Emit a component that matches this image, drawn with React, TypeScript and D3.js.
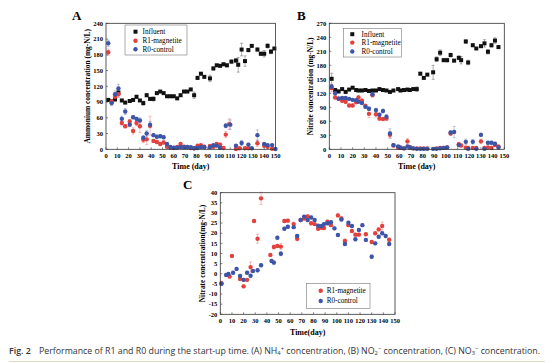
import * as d3 from "d3";

type Pt = [number, number, number]; // day, value, error

const DAY_TICKS = [0, 10, 20, 30, 40, 50, 60, 70, 80, 90, 100, 110, 120, 130, 140, 150];
const A_TICKS = [0, 30, 60, 90, 120, 150, 180, 210, 240];
const B_TICKS = [0, 30, 60, 90, 120, 150, 180, 210, 240, 270];
const C_TICKS = [-20, -15, -10, -5, 0, 5, 10, 15, 20, 25, 30, 35, 40];

const A_INFLUENT: Pt[] = [
  [2, 94, 3], [5, 91, 3], [8, 95, 3], [11, 108, 4], [14, 93, 2], [17, 89, 2], [21, 92, 2], [24, 94, 2],
  [27, 100, 3], [30, 93, 2], [33, 88, 4], [36, 103, 3], [39, 96, 3], [42, 96, 4], [45, 107, 2], [48, 110, 2],
  [51, 107, 2], [54, 101, 2], [57, 101, 2], [60, 101, 2], [63, 97, 2], [66, 103, 2], [69, 110, 2], [72, 110, 2],
  [75, 114, 2], [78, 103, 6], [81, 136, 3], [84, 144, 2], [87, 138, 2], [92, 135, 6], [95, 154, 3], [98, 160, 2],
  [101, 159, 2], [104, 162, 2], [107, 160, 3], [111, 167, 3], [115, 169, 4], [117, 161, 14], [120, 190, 12],
  [123, 168, 10], [126, 189, 3], [129, 197, 2], [134, 190, 3], [137, 182, 3], [140, 182, 6], [143, 197, 4],
  [146, 186, 4], [149, 192, 2],
];
const A_R1: Pt[] = [
  [2, 185, 6], [5, 91, 4], [8, 100, 5], [11, 105, 6], [14, 50, 4], [17, 44, 3], [21, 53, 4], [24, 35, 6],
  [27, 50, 5], [30, 44, 12], [33, 18, 5], [36, 19, 10], [39, 45, 18], [42, 16, 3], [45, 14, 3], [48, 10, 3],
  [51, 13, 3], [54, 5, 2], [57, 3, 1], [60, 2.5, 1], [63, 4.4, 1], [66, 10, 2], [69, 5, 1], [72, 4, 1],
  [75, 2.5, 1], [78, 2, 1], [81, 7, 2], [84, 7.6, 2], [87, 5, 2], [92, 6.3, 2], [95, 5, 2], [98, 10, 3],
  [101, 9, 3], [104, 2.5, 1], [106, 28, 6], [109, 48, 10], [115, 0.5, 1], [118, 2, 1], [123, 2, 1], [126, 2, 1],
  [134, 11.4, 6], [140, 7, 3], [143, 5, 2], [147, 1, 1],
];
const A_R0: Pt[] = [
  [2, 202, 6], [5, 88, 5], [8, 105, 6], [11, 116, 8], [14, 58, 5], [17, 72, 6], [21, 47, 4], [24, 61, 3],
  [27, 58, 3], [30, 55, 5], [33, 22, 4], [36, 30, 6], [39, 47, 6], [42, 27, 3], [45, 24, 3], [48, 25, 3],
  [51, 23, 3], [54, 10, 2], [57, 4.4, 1], [60, 3, 1], [63, 3, 1], [66, 4.4, 1], [69, 4, 1], [72, 4.4, 1],
  [75, 4, 1], [78, 2, 1], [81, 2.5, 1], [84, 4.4, 1], [87, 4, 1], [92, 4, 1], [95, 7.6, 2], [98, 7, 2],
  [101, 3, 1], [106, 45, 4], [110, 47, 9], [115, 7, 2], [120, 12, 5], [126, 9, 3], [129, 2, 1], [134, 27, 10],
  [140, 10, 2], [143, 8, 2], [147, 8, 2], [150, 0.5, 1],
];

const B_INFLUENT: Pt[] = [
  [2, 151, 12], [5, 127, 3], [8, 124, 3], [11, 129, 3], [14, 123, 3], [17, 128, 2], [20, 132, 2], [23, 127, 2],
  [25, 126, 2], [28, 126, 2], [31, 127, 2], [34, 125, 2], [37, 126, 2], [40, 126, 2], [43, 129, 2], [46, 127, 2],
  [49, 126, 2], [52, 123, 2], [55, 126, 2], [59, 129, 2], [61, 126, 2], [64, 127, 2], [67, 128, 2], [69, 127, 2],
  [72, 129, 3], [75, 129, 5], [78, 162, 3], [81, 153, 2], [84, 160, 2], [89, 165, 15], [92, 193, 5], [95, 207, 6],
  [98, 191, 3], [101, 191, 4], [104, 202, 4], [107, 190, 2], [111, 196, 4], [113, 191, 8], [117, 231, 4],
  [119, 186, 5], [123, 223, 3], [126, 216, 2], [130, 221, 3], [133, 227, 8], [136, 209, 5], [139, 223, 4],
  [142, 233, 6], [145, 219, 2],
];
const B_R1: Pt[] = [
  [2, 131, 8], [5, 111, 3], [8, 108, 3], [11, 104, 3], [14, 102, 4], [17, 94, 3], [20, 94, 3], [23, 101, 3],
  [25, 111, 4], [28, 104, 4], [31, 93, 4], [34, 76, 8], [37, 116, 4], [40, 75, 6], [43, 66, 4], [46, 65, 3],
  [49, 66, 4], [52, 31, 7], [55, 8, 3], [59, 3.6, 1], [61, 3, 1], [64, 2, 1], [67, 17, 6], [69, 5, 2],
  [72, 2, 1], [75, 2, 1], [78, 2, 1], [81, 2, 1], [84, 2, 1], [92, 2, 1], [95, 3, 1], [98, 3, 1], [101, 4, 1],
  [104, 34, 4], [111, 11, 4], [113, 8, 3], [117, 3.6, 2], [119, 3, 2], [123, 3, 2], [126, 3, 2], [130, 17, 5],
  [133, 3, 2], [136, 4, 2], [139, 3, 2], [142, 9, 3], [145, 6, 2],
];
const B_R0: Pt[] = [
  [2, 134, 5], [5, 120, 4], [8, 109, 2], [11, 110, 2], [14, 110, 2], [17, 108, 2], [20, 106, 2], [23, 105, 2],
  [25, 102, 2], [28, 99, 3], [31, 91, 3], [34, 87, 4], [37, 118, 5], [40, 84, 4], [43, 74, 3], [46, 82, 4],
  [49, 70, 4], [52, 34, 10], [55, 9, 2], [59, 6, 2], [61, 4, 1], [64, 2, 1], [67, 6, 2], [69, 4, 1],
  [72, 2, 1], [75, 1, 1], [78, 1, 1], [81, 1, 1], [84, 1, 1], [89, 1, 1], [92, 1, 1], [95, 2, 1], [98, 3, 1],
  [101, 4, 1], [104, 36, 4], [107, 37, 12], [111, 9, 3], [117, 16, 6], [119, 1, 1], [123, 16, 5], [126, 1, 1],
  [130, 31, 4], [133, 1, 1], [136, 14, 3], [139, 14, 3], [142, 12, 3], [145, 4, 2],
];

const C_R1: Pt[] = [
  [1, -4.7, 1], [8, -1.3, 1], [10, 8.8, 0.7], [17, -2.6, 0.7], [20, -6.2, 0.7], [23, -3, 0.7], [26, 3.3, 2.5],
  [29, 26, 0.7], [32, 17.3, 2.2], [35, 37.2, 3], [43, 9.3, 0.7], [46, 13.2, 1], [49, 13.7, 0.7], [52, 13.4, 1.5],
  [55, 26, 0.7], [58, 26.2, 0.7], [63, 24.5, 1], [66, 17.3, 1], [69, 26.5, 0.7], [72, 27.3, 0.7], [75, 28.3, 0.7],
  [78, 24.9, 0.7], [81, 24.5, 0.7], [84, 22.2, 0.7], [87, 22.7, 0.7], [89, 22.6, 0.7], [92, 25.7, 0.7],
  [95, 24, 0.7], [101, 28.8, 0.7], [104, 27.3, 1], [107, 16.2, 1], [110, 24, 0.7], [113, 21.1, 0.7],
  [116, 19.3, 0.7], [119, 19.3, 0.7], [125, 19.5, 0.7], [130, 15.7, 0.7], [133, 20, 0.7], [136, 21.9, 0.7],
  [139, 23.6, 2], [145, 16.8, 0.7],
];
const C_R0: Pt[] = [
  [1, -4.9, 0.7], [5, -0.6, 0.7], [7, -0.1, 0.7], [11, 0.5, 0.7], [14, 2.4, 0.7], [17, -1.1, 0.7], [20, -3, 0.7],
  [23, 0.5, 0.7], [26, -1, 0.7], [28, 1.4, 0.7], [32, 1.7, 0.7], [35, 4.2, 0.7], [44, 6.3, 0.7], [46, 5.5, 1],
  [49, 17.8, 0.7], [52, 9.9, 1], [55, 22.2, 0.7], [58, 23.2, 0.7], [63, 23, 0.7], [66, 18.6, 0.7], [69, 26.5, 0.7],
  [72, 28.2, 0.7], [75, 26.5, 0.7], [78, 27.8, 0.7], [81, 26.5, 0.7], [84, 23.7, 0.7], [87, 23.6, 0.7],
  [89, 24.5, 0.7], [92, 24.9, 0.7], [95, 25.4, 0.7], [98, 22.4, 0.7], [101, 19.1, 0.7], [104, 26.8, 0.7],
  [107, 14.7, 0.7], [110, 25.2, 0.7], [113, 23.6, 0.7], [116, 17, 0.7], [119, 21.6, 0.7], [122, 24, 0.7],
  [125, 16.7, 0.7], [130, 8.4, 0.7], [133, 15, 0.7], [136, 18.3, 0.7], [139, 20, 0.7], [142, 18.6, 0.7],
  [145, 14.7, 0.7],
];

const RED = "#e2413d";
const BLUE = "#3d55a8";
const BLACK = "#111";
const SERIF = "'Liberation Serif', 'Times New Roman', serif";
const SANS = "'Open Sans', 'Liberation Sans', sans-serif";

type Series = { name: string; data: Pt[]; color: string; shape: "square" | "circle" };

type PanelProps = {
  left: number; right: number; top: number; bottom: number;
  yDomain: [number, number]; yTicks: number[];
  series: Series[];
  letter: string; letterX: number; letterY: number;
  yLabel: string; yLabelX: number;
  xLabel: string; xLabelY: number;
  legend: { x: number; y: number; w: number; h: number; rowY: number[]; markX: number; textX: number };
};

function Marker({ x, y, s }: { x: number; y: number; s: Series }) {
  if (s.shape === "square") return <rect x={x - 2} y={y - 2} width={4} height={4} fill={s.color} />;
  return <circle cx={x} cy={y} r={2.2} fill={s.color} />;
}

function Panel(p: PanelProps) {
  const x = d3.scaleLinear().domain([0, 150]).range([p.left, p.right]);
  const y = d3.scaleLinear().domain(p.yDomain).range([p.bottom, p.top]);
  const cy = (p.top + p.bottom) / 2;
  return (
    <g>
      <text x={p.letterX} y={p.letterY} fontFamily={SERIF} fontWeight={700} fontSize={13}>{p.letter}</text>
      {/* error bars then markers */}
      {p.series.map((s) => (
        <g key={s.name + "e"} stroke={s.color} strokeOpacity={0.55} strokeWidth={0.6}>
          {s.data.map(([d, v, e], i) => (
            <g key={i}>
              <line x1={x(d)} x2={x(d)} y1={y(v - e)} y2={y(v + e)} />
              <line x1={x(d) - 1.5} x2={x(d) + 1.5} y1={y(v + e)} y2={y(v + e)} />
              <line x1={x(d) - 1.5} x2={x(d) + 1.5} y1={y(v - e)} y2={y(v - e)} />
            </g>
          ))}
        </g>
      ))}
      {p.series.map((s) => (
        <g key={s.name}>
          {s.data.map(([d, v], i) => <Marker key={i} x={x(d)} y={y(v)} s={s} />)}
        </g>
      ))}
      <rect x={p.left} y={p.top} width={p.right - p.left} height={p.bottom - p.top} fill="none" stroke="#333" strokeWidth={0.8} />
      {DAY_TICKS.map((t) => (
        <g key={t}>
          <line x1={x(t)} x2={x(t)} y1={p.bottom} y2={p.bottom - 2} stroke="#333" strokeWidth={0.6} />
          <text x={x(t)} y={p.bottom + 9} textAnchor="middle" fontFamily={SERIF} fontWeight={700} fontSize={6.5}>{t}</text>
        </g>
      ))}
      {p.yTicks.map((t) => (
        <g key={t}>
          <line x1={p.left} x2={p.left + 2} y1={y(t)} y2={y(t)} stroke="#333" strokeWidth={0.6} />
          <text x={p.left - 3} y={y(t) + 2.2} textAnchor="end" fontFamily={SERIF} fontWeight={700} fontSize={6.5}>{t}</text>
        </g>
      ))}
      <text transform={`translate(${p.yLabelX},${cy}) rotate(-90)`} textAnchor="middle" fontFamily={SERIF} fontWeight={700} fontSize={7.4}>{p.yLabel}</text>
      <text x={(p.left + p.right) / 2} y={p.xLabelY} textAnchor="middle" fontFamily={SERIF} fontWeight={700} fontSize={8}>{p.xLabel}</text>
      <rect x={p.legend.x} y={p.legend.y} width={p.legend.w} height={p.legend.h} fill="#fff" stroke="#777" strokeWidth={0.6} />
      {p.series.map((s, i) => (
        <g key={s.name + "l"}>
          <Marker x={p.legend.markX} y={p.legend.rowY[i]} s={s} />
          <text x={p.legend.textX} y={p.legend.rowY[i] + 2.4} fontFamily={SERIF} fontSize={7.2}>{s.name}</text>
        </g>
      ))}
    </g>
  );
}

export default function App() {
  return (
    <svg width={554} height={363} style={{ position: "absolute", left: 0, top: 0, background: "#fff" }}>
      <Panel
        left={106} right={275.5} top={23.3} bottom={149.3}
        yDomain={[0, 240]} yTicks={A_TICKS}
        series={[
          { name: "Influent", data: A_INFLUENT, color: BLACK, shape: "square" },
          { name: "R1-magnetite", data: A_R1, color: RED, shape: "circle" },
          { name: "R0-control", data: A_R0, color: BLUE, shape: "circle" },
        ]}
        letter="A" letterX={72} letterY={20}
        yLabel="Ammonium concentration (mg-N/L)" yLabelX={90}
        xLabel="Time (day)" xLabelY={169}
        legend={{ x: 125, y: 25, w: 62, h: 30, rowY: [31.7, 40.7, 49.3], markX: 135.5, textX: 142.5 }}
      />
      <Panel
        left={329.3} right={504.3} top={23.3} bottom={149.3}
        yDomain={[0, 270]} yTicks={B_TICKS}
        series={[
          { name: "Influent", data: B_INFLUENT, color: BLACK, shape: "square" },
          { name: "R1-magnetite", data: B_R1, color: RED, shape: "circle" },
          { name: "R0-control", data: B_R0, color: BLUE, shape: "circle" },
        ]}
        letter="B" letterX={297} letterY={20}
        yLabel="Nitrite concentration (mg-N/L)" yLabelX={313}
        xLabel="Time (day)" xLabelY={169}
        legend={{ x: 343.5, y: 28.5, w: 58, h: 28.5, rowY: [34.2, 42.6, 51.5], markX: 352.3, textX: 361.5 }}
      />
      <Panel
        left={220.3} right={395} top={192.7} bottom={314.3}
        yDomain={[-20, 40]} yTicks={C_TICKS}
        series={[
          { name: "R1-magnetite", data: C_R1, color: RED, shape: "circle" },
          { name: "R0-control", data: C_R0, color: BLUE, shape: "circle" },
        ]}
        letter="C" letterX={183} letterY={189}
        yLabel="Nitrate concentration(mg-N/L)" yLabelX={205}
        xLabel="Time(day)" xLabelY={335}
        legend={{ x: 306.5, y: 283.3, w: 63.5, h: 25, rowY: [290.7, 301], markX: 320.7, textX: 326.7 }}
      />
      <text x={9} y={353.5} fontFamily={SANS} fontSize={8.8} fill="#333">
        <tspan fontWeight={600}>Fig. 2</tspan>
        <tspan x={39}>Performance of R1 and R0 during the start-up time. (A) NH</tspan>
        <tspan fontSize={5.8} dy={1.5}>4</tspan>
        <tspan fontSize={5.8} dy={-4}>+</tspan>
        <tspan dy={2.5}> concentration, (B) NO</tspan>
        <tspan fontSize={5.8} dy={1.5}>2</tspan>
        <tspan fontSize={5.8} dy={-4}>−</tspan>
        <tspan dy={2.5}> concentration, (C) NO</tspan>
        <tspan fontSize={5.8} dy={1.5}>3</tspan>
        <tspan fontSize={5.8} dy={-4}>−</tspan>
        <tspan dy={2.5}> concentration.</tspan>
      </text>
      <line x1={9} x2={545} y1={361.5} y2={361.5} stroke="#e3d9c3" strokeWidth={1} />
    </svg>
  );
}
